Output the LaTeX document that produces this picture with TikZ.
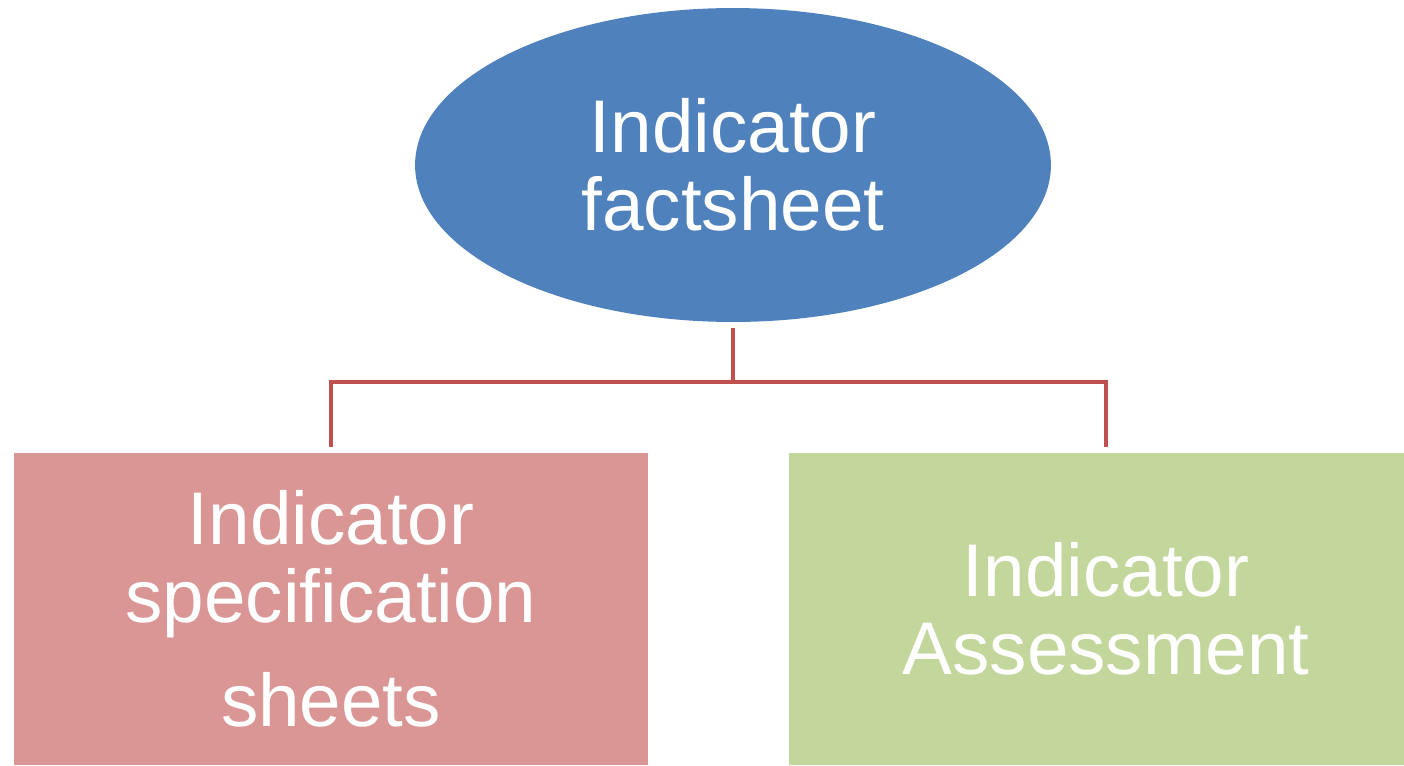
\documentclass[tikz,border=0pt]{standalone}
\usepackage{fontspec}
\setmainfont{Liberation Sans}
\usetikzlibrary{shapes.geometric,positioning}
\definecolor{sheetblue}{HTML}{4F81BD}
\definecolor{linkred}{HTML}{C0504D}
\definecolor{specpink}{HTML}{D99694}
\definecolor{assessgreen}{HTML}{C3D69B}

\begin{document}
\begin{tikzpicture}[x=0.02cm, y=-0.02cm,
        label text/.style={text=white, align=center, inner sep=0pt,
                           font=\fontsize{42.5}{44.2}\selectfont},
        topnode/.style={ellipse, fill=sheetblue, minimum width=12.72cm,
                        minimum height=6.28cm, label text},
        leafbox/.style={rectangle, minimum width=12.7cm, minimum height=6.24cm,
                        label text},
        link/.style={draw=linkred, line width=2.2pt}]
        \useasboundingbox (0,0) rectangle (1404,765);
        \clip (0,0) rectangle (1404,765);
        % top of the tree
        \node[topnode] (fs) at (733,165) {Indicator\\factsheet};
        % the two parts
        \node[leafbox, fill=specpink] (spec) at (331,609)
             {Indicator\\specification\\[15pt]sheets};
        \node[leafbox, fill=assessgreen] (assess) at (1106,609)
             {Indicator\\Assessment};
        \coordinate (hub) at (733,382);
        \draw[link, shorten <=0.12cm] (fs.south) -- (hub);
        \draw[link, shorten >=0.12cm] (hub) -| (spec.north);
        \draw[link, shorten >=0.12cm] (hub) -| (assess.north);
    \end{tikzpicture}
\end{document}
